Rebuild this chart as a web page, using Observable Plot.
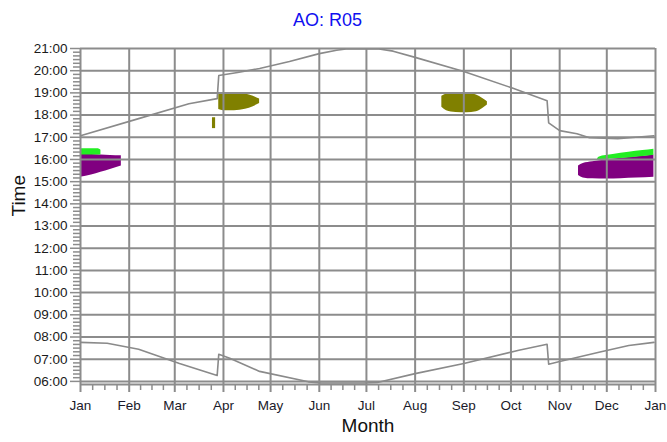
<!DOCTYPE html>
<html>
<head>
<meta charset="utf-8">
<script src="https://cdn.jsdelivr.net/npm/d3@7"></script>
<script src="https://cdn.jsdelivr.net/npm/@observablehq/plot@0.6"></script>
<style>
  html, body { margin: 0; padding: 0; background: #fff; }
  #title { height: 20px; padding-top: 11px; padding-bottom: 1px; padding-right: 12px; text-align: center;
           font: 18px "Liberation Sans", Arial, sans-serif; line-height: 19px; color: #1010f0; }
  #chart svg { display: block; }
</style>
</head>
<body>
<div id="title">AO: R05</div>
<div id="chart"></div>
<script>
// ---- data (times in decimal hours) ----
const xStart = "2020-01-01";
const xEnd = "2021-01-01";
const hourTicks = [6,7,8,9,10,11,12,13,14,15,16,17,18,19,20,21];

// sunset curve
const sunsetDates = ["2020-01-01","2020-02-07","2020-03-10","2020-03-28","2020-03-29","2020-04-10","2020-04-24","2020-05-13","2020-06-01","2020-06-12","2020-06-18","2020-07-09","2020-07-18","2020-08-01","2020-09-01","2020-10-01","2020-10-24","2020-10-25","2020-11-01","2020-11-12","2020-11-20","2020-12-08","2020-12-31"];
const sunsetTimes = [17.07,17.84,18.51,18.74,19.78,19.92,20.10,20.41,20.77,20.92,20.98,20.98,20.88,20.60,19.96,19.24,18.65,17.65,17.30,17.16,16.98,16.93,17.07];

// sunrise curve
const sunriseDates = ["2020-01-01","2020-01-18","2020-02-07","2020-03-04","2020-03-28","2020-03-29","2020-04-05","2020-04-24","2020-05-25","2020-06-02","2020-06-29","2020-07-08","2020-08-01","2020-09-01","2020-10-06","2020-10-24","2020-10-25","2020-11-01","2020-11-26","2020-12-15","2020-12-31"];
const sunriseTimes = [7.76,7.72,7.45,6.81,6.27,7.22,7.04,6.45,5.98,5.93,5.93,5.95,6.35,6.81,7.40,7.67,6.77,6.90,7.31,7.62,7.76];

// shadow periods: purple (Jan)
const janPurpleDates = ["2020-01-01","2020-01-08","2020-01-14","2020-01-20","2020-01-27"];
const janPurpleLow   = [15.20,15.30,15.42,15.55,15.71];
const janPurpleHigh  = [16.22,16.22,16.20,16.18,16.17];
// green (Jan)
const janGreenDates = ["2020-01-01","2020-01-12","2020-01-14"];
const janGreenLow   = [16.20,16.20,16.20];
const janGreenHigh  = [16.48,16.48,16.42];
// olive (spring)
const aprOliveDates = ["2020-03-29","2020-04-01","2020-04-08","2020-04-15","2020-04-20","2020-04-24"];
const aprOliveLow   = [18.25,18.20,18.20,18.26,18.38,18.52];
const aprOliveHigh  = [18.97,19.02,19.02,18.95,18.85,18.72];
const marOliveDates = ["2020-03-25","2020-03-27"];
const marOliveLow   = [17.39,17.39];
const marOliveHigh  = [17.88,17.88];
// olive (late summer)
const sepOliveDates = ["2020-08-18","2020-08-21","2020-08-27","2020-09-03","2020-09-09","2020-09-13","2020-09-16"];
const sepOliveLow   = [18.35,18.20,18.12,18.10,18.15,18.30,18.45];
const sepOliveHigh  = [18.85,18.95,19.02,19.00,18.90,18.75,18.60];
// purple (Dec)
const decPurpleDates = ["2020-11-13","2020-11-16","2020-11-22","2020-12-01","2020-12-10","2020-12-20","2020-12-31"];
const decPurpleLow   = [15.28,15.17,15.13,15.12,15.13,15.16,15.20];
const decPurpleHigh  = [15.71,15.82,15.90,15.98,16.05,16.12,16.20];
// green (Dec)
const decGreenDates = ["2020-11-25","2020-11-26","2020-12-05","2020-12-15","2020-12-24","2020-12-31"];
const decGreenLow   = [15.96,15.96,16.02,16.07,16.13,16.19];
const decGreenHigh  = [16.00,16.10,16.22,16.32,16.40,16.46];

const colPurple = "#800080", colGreen = "#22ee22", colOlive = "#808000";

// ---- helpers ----
const toDate = s => new Date(s + "T00:00:00Z");
const band = (dates, lo, hi) => dates.map((d, i) => ({x: toDate(d), lo: lo[i], hi: hi[i]}));
const curve = (dates, t) => dates.map((d, i) => ({x: toDate(d), t: t[i]}));

const months = d3.utcMonth.range(toDate(xStart), d3.utcDay.offset(toDate(xEnd), 1));
const minorX = [];
for (let i = 0; i < months.length - 1; i++) {
  const a = +months[i], b = +months[i + 1];
  for (const f of [0.25, 0.5, 0.75]) minorX.push(new Date(a + (b - a) * f));
}
const minorY = [];
for (let h = 6; h < 21; h++) for (let k = 1; k < 6; k++) minorY.push(h + k / 6);

const yMin = 5.86, yMax = 21;
const grid = "#8c8c8c";
const areas = [
  [band(janPurpleDates, janPurpleLow, janPurpleHigh), colPurple],
  [band(janGreenDates, janGreenLow, janGreenHigh), colGreen],
  [band(aprOliveDates, aprOliveLow, aprOliveHigh), colOlive],
  [band(marOliveDates, marOliveLow, marOliveHigh), colOlive],
  [band(sepOliveDates, sepOliveLow, sepOliveHigh), colOlive],
  [band(decPurpleDates, decPurpleLow, decPurpleHigh), colPurple],
  [band(decGreenDates, decGreenLow, decGreenHigh), colGreen]
];

const chart = Plot.plot({
  width: 667,
  height: 410,
  marginLeft: 80,
  marginRight: 12,
  marginTop: 16,
  marginBottom: 58,
  style: {fontFamily: "'Liberation Sans', Arial, sans-serif", fontSize: "13.5px", background: "#fff"},
  x: {type: "utc", domain: [toDate(xStart), toDate(xEnd)], label: null},
  y: {domain: [yMin, yMax], label: null},
  marks: [
    ...areas.map(([data, c]) => Plot.areaY(data, {x: "x", y1: "lo", y2: "hi", fill: c, curve: "monotone-x"})),
    Plot.ruleY(hourTicks, {stroke: grid, strokeWidth: 2}),
    Plot.ruleX(months, {stroke: grid, strokeWidth: 2}),
    Plot.ruleY([yMin], {stroke: grid, strokeWidth: 2}),
    Plot.line(curve(sunsetDates, sunsetTimes), {x: "x", y: "t", stroke: "#8a8a8a", strokeWidth: 1.6}),
    Plot.line(curve(sunriseDates, sunriseTimes), {x: "x", y: "t", stroke: "#8a8a8a", strokeWidth: 1.6}),
    Plot.axisY({ticks: hourTicks, tickSize: 10, tickPadding: 3, stroke: grid, strokeWidth: 1.5, fill: "#1a1a1a",
      tickFormat: d => String(d).padStart(2, "0") + ":00", label: null}),
    Plot.axisY({ticks: minorY, tickSize: 7, stroke: grid, strokeWidth: 1.5, tickFormat: () => "", label: null}),
    Plot.axisX({ticks: months, tickSize: 8, tickPadding: 8, stroke: grid, strokeWidth: 2, fill: "#1a1a2a",
      tickFormat: d3.utcFormat("%b"), label: null}),
    Plot.axisX({ticks: minorX, tickSize: 6, stroke: grid, strokeWidth: 1.5, tickFormat: () => "", label: null}),
    Plot.text(["Time"], {text: d => d, frameAnchor: "left", rotate: -90, dx: -62, fontSize: 19, fill: "#111"}),
    Plot.text(["Month"], {text: d => d, frameAnchor: "bottom", dy: 47, fontSize: 19, fill: "#111"})
  ]
});
document.getElementById("chart").appendChild(chart);
</script>
</body>
</html>
